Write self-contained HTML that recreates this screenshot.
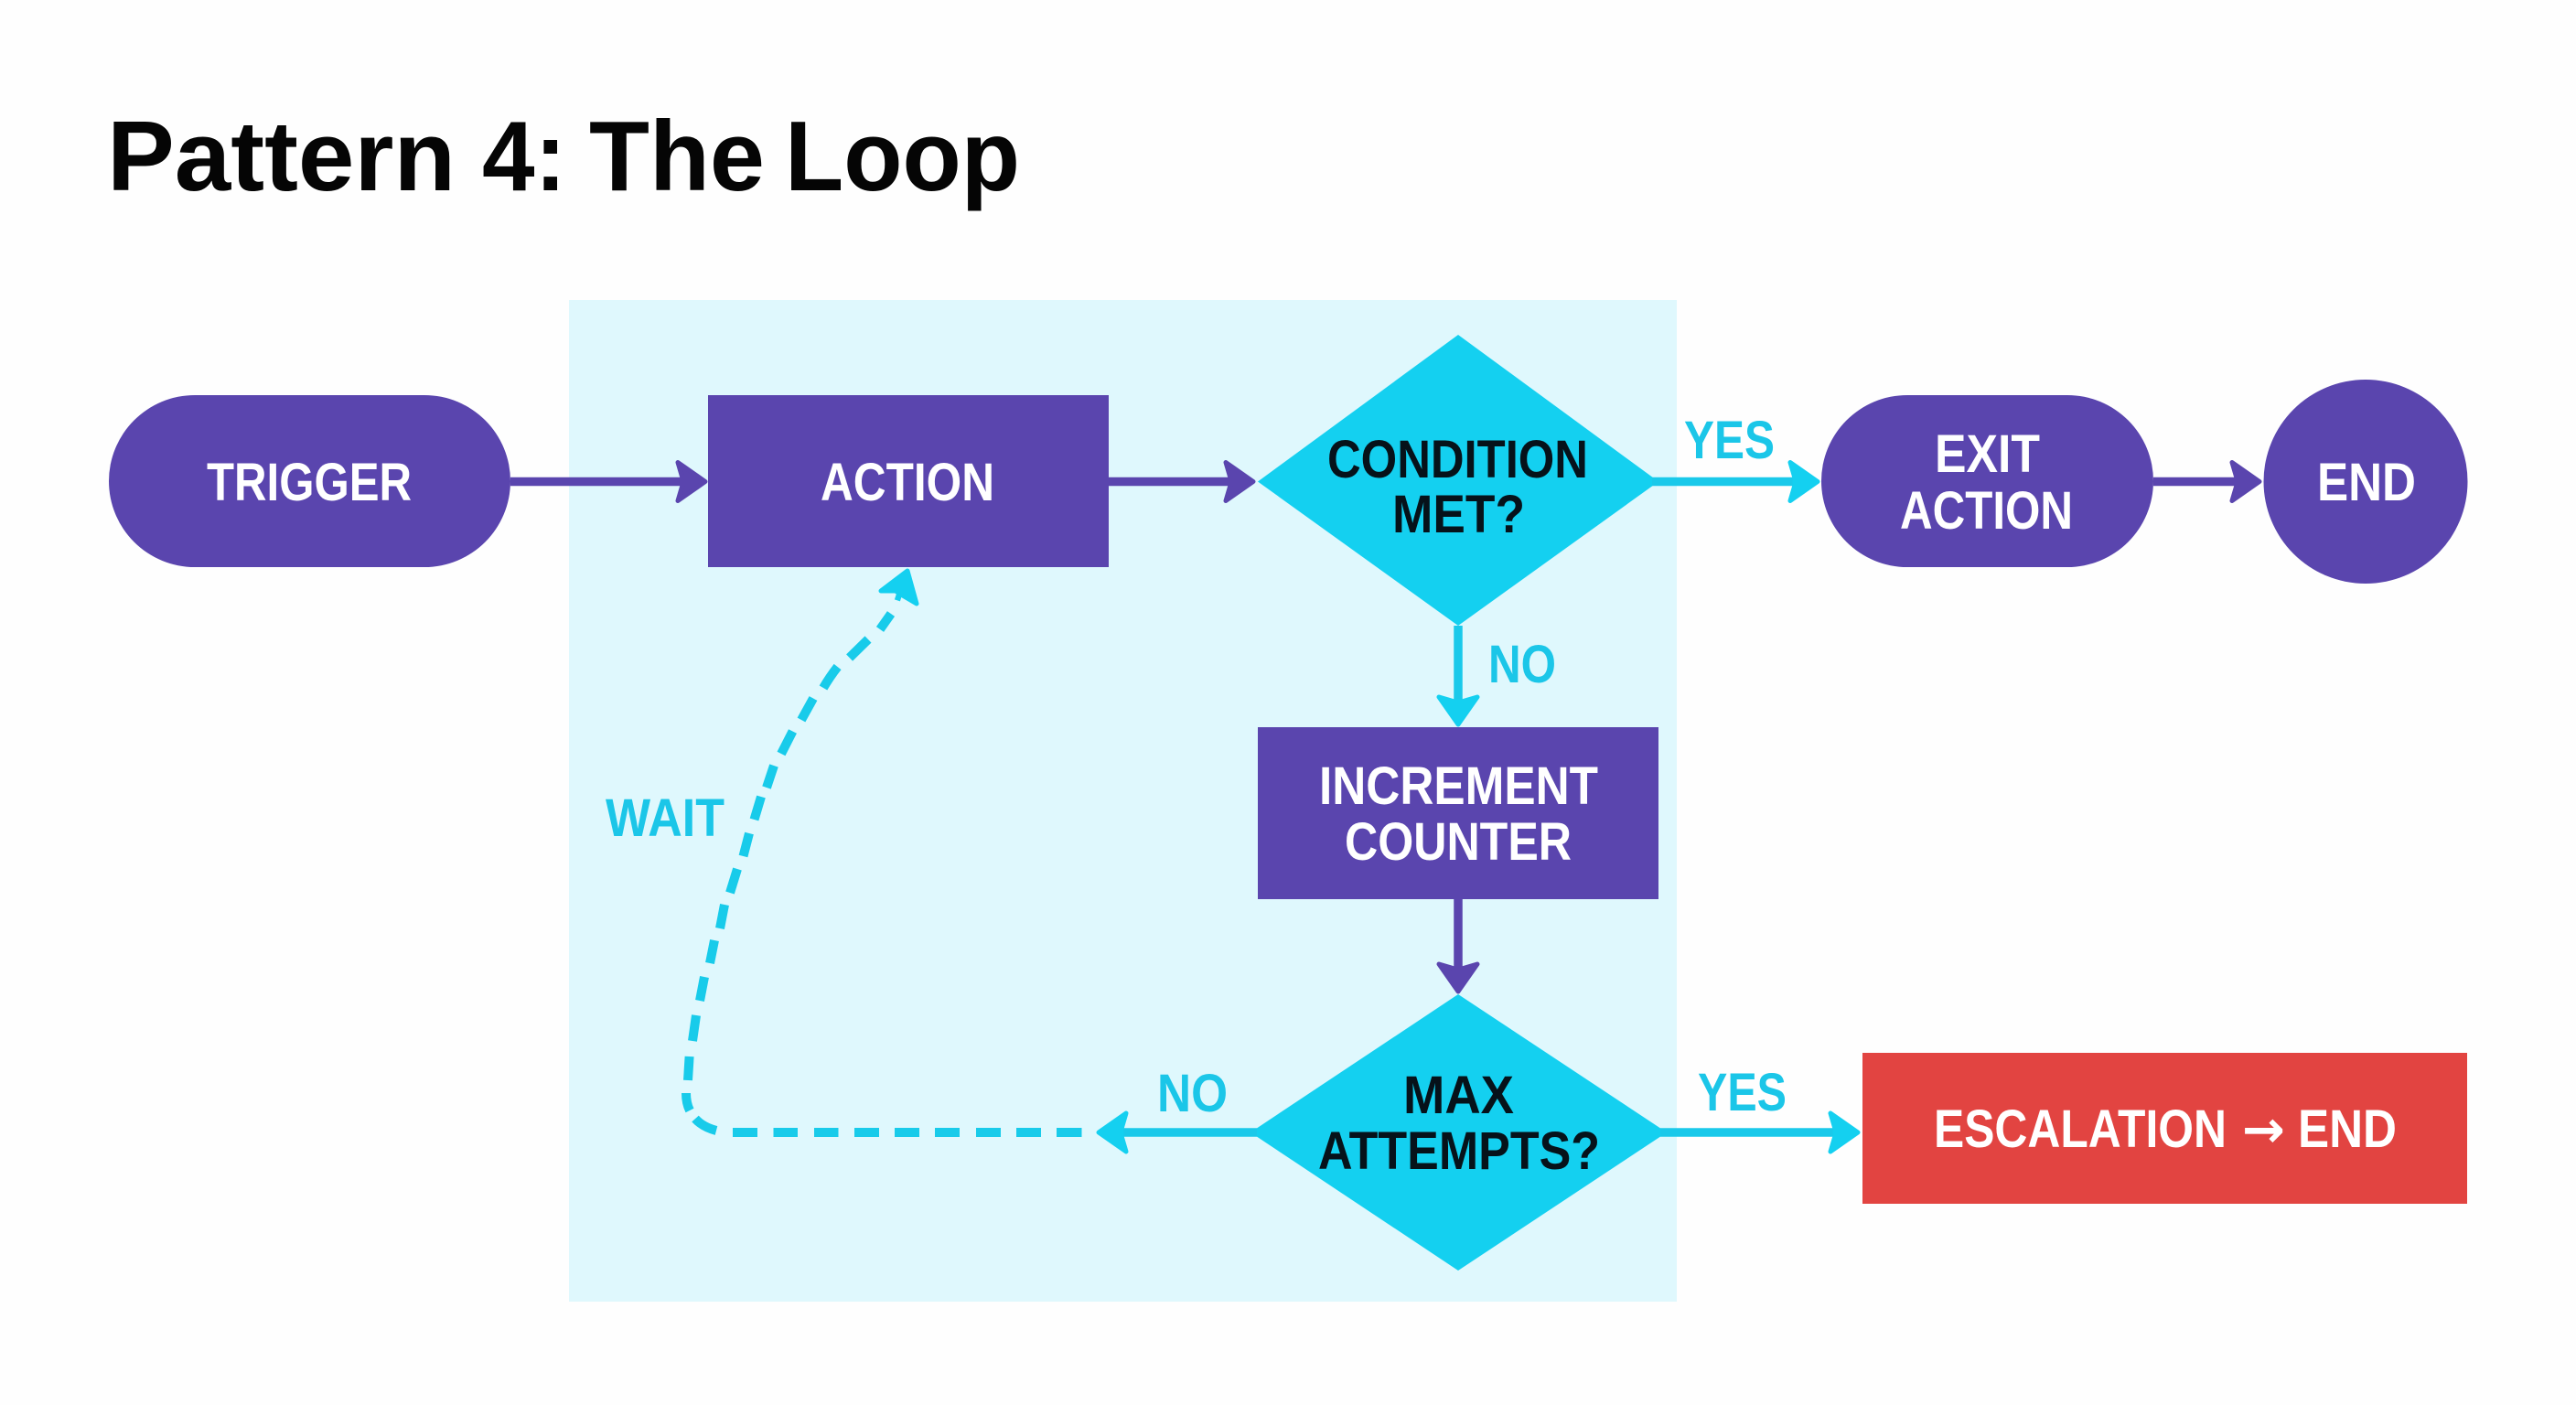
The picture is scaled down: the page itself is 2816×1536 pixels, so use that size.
<!DOCTYPE html>
<html>
<head>
<meta charset="utf-8">
<title>Pattern 4: The Loop</title>
<style>
html,body{margin:0;padding:0;background:#fefefe;width:2816px;height:1536px;overflow:hidden}
svg{display:block}
text{font-family:"Liberation Sans",sans-serif;font-weight:700}
.t{fill:#050505;font-size:109px}
.w{fill:#ffffff;font-size:58px}
.k{fill:#06121a;font-size:58px}
.c{fill:#1bc6e8;font-size:58px}
</style>
</head>
<body>
<svg width="2816" height="1536" viewBox="0 0 2816 1536" xmlns="http://www.w3.org/2000/svg">
<defs>
<path id="hp" d="M0 0 L-30 -21 L-25 -4 L-25 4 L-30 21 Z" fill="#5a45ae" stroke="#5a45ae" stroke-width="5" stroke-linejoin="round"/>
<path id="hc" d="M0 0 L-30 -21 L-25 -4 L-25 4 L-30 21 Z" fill="#14d0f0" stroke="#14d0f0" stroke-width="5" stroke-linejoin="round"/>
</defs>
<rect width="2816" height="1536" fill="#fefefe"/>
<rect x="622" y="328" width="1211" height="1095" fill="#dff8fd"/>

<text class="t" x="117" y="208" textLength="381" lengthAdjust="spacingAndGlyphs">Pattern</text>
<text class="t" x="527" y="208" textLength="92" lengthAdjust="spacingAndGlyphs">4:</text>
<text class="t" x="644" y="208" textLength="192" lengthAdjust="spacingAndGlyphs">The</text>
<text class="t" x="858" y="208" textLength="257" lengthAdjust="spacingAndGlyphs">Loop</text>

<!-- shapes -->
<rect x="119" y="432" width="439" height="188" rx="94" fill="#5a45ae"/>
<rect x="774" y="432" width="438" height="188" fill="#5a45ae"/>
<polygon points="1375,526.5 1594,366 1813,526.5 1594,684" fill="#14d0f0"/>
<rect x="1991" y="432" width="363" height="188" rx="94" fill="#5a45ae"/>
<circle cx="2586" cy="526.5" r="111.5" fill="#5a45ae"/>
<rect x="1375" y="795" width="438" height="188" fill="#5a45ae"/>
<polygon points="1367,1238 1594,1087 1822,1238 1594,1389" fill="#14d0f0"/>
<rect x="2036" y="1151" width="661" height="165" fill="#e24441"/>

<!-- solid connectors -->
<g fill="none" stroke-width="9.5">
<line x1="558" y1="526.5" x2="755" y2="526.5" stroke="#5a45ae"/>
<line x1="1212" y1="526.5" x2="1355" y2="526.5" stroke="#5a45ae"/>
<line x1="2354" y1="526.5" x2="2455" y2="526.5" stroke="#5a45ae"/>
<line x1="1594" y1="983" x2="1594" y2="1070" stroke="#5a45ae"/>
<line x1="1806" y1="526.5" x2="1970" y2="526.5" stroke="#1ac9ea"/>
<line x1="1594" y1="684" x2="1594" y2="775" stroke="#1ac9ea"/>
<line x1="1815" y1="1238" x2="2015" y2="1238" stroke="#1ac9ea"/>
<line x1="1374" y1="1238" x2="1215" y2="1238" stroke="#1ac9ea"/>
</g>

<!-- arrowheads -->
<use href="#hp" transform="translate(771 526.5)"/>
<use href="#hp" transform="translate(1370 526.5)"/>
<use href="#hp" transform="translate(2470 526.5)"/>
<use href="#hp" transform="translate(1594 1084) rotate(90)"/>
<use href="#hc" transform="translate(1987 526.5)"/>
<use href="#hc" transform="translate(1594 792) rotate(90)"/>
<use href="#hc" transform="translate(2031 1238)"/>
<use href="#hc" transform="translate(1201 1238) rotate(180)"/>
<path d="M992 624 L963 646 L979 646 L985 650 L1002 660 Z" fill="#14d0f0" stroke="#14d0f0" stroke-width="5" stroke-linejoin="round"/>
<line x1="979" y1="652" x2="985" y2="654" stroke="#14d0f0" stroke-width="7"/>

<!-- dashed loop -->
<g stroke="#18cbea" stroke-width="10" fill="none">
<line x1="801" y1="1238" x2="828" y2="1238"/>
<line x1="845.5" y1="1238" x2="872" y2="1238"/>
<line x1="890" y1="1238" x2="916.5" y2="1238"/>
<line x1="934" y1="1238" x2="961" y2="1238"/>
<line x1="978" y1="1238" x2="1005" y2="1238"/>
<line x1="1022" y1="1238" x2="1049" y2="1238"/>
<line x1="1067" y1="1238" x2="1094" y2="1238"/>
<line x1="1111" y1="1238" x2="1138" y2="1238"/>
<line x1="1155" y1="1238" x2="1182.5" y2="1238"/>
<path d="M783 1236 Q768 1232 760 1223"/>
<path d="M754 1214 Q750 1206 750 1195"/>
<line x1="752" y1="1181" x2="753.6" y2="1155"/>
<line x1="757" y1="1138" x2="761" y2="1110"/>
<line x1="765" y1="1094" x2="770" y2="1068"/>
<line x1="776" y1="1053" x2="781" y2="1028"/>
<line x1="787" y1="1015" x2="792" y2="989"/>
<line x1="798" y1="976" x2="806" y2="950"/>
<line x1="812.5" y1="936" x2="819" y2="911"/>
<line x1="824.5" y1="896" x2="832" y2="871"/>
<line x1="838" y1="861" x2="846" y2="837"/>
<line x1="854" y1="824" x2="866.5" y2="799.5"/>
<line x1="876" y1="787" x2="889" y2="763.5"/>
<path d="M900 752 Q907 740 915.6 729"/>
<line x1="928.6" y1="719" x2="949" y2="699"/>
<line x1="962" y1="688" x2="974" y2="671"/>
</g>

<!-- node labels -->
<text class="w" x="226" y="547" textLength="224" lengthAdjust="spacingAndGlyphs">TRIGGER</text>
<text class="w" x="897" y="547" textLength="190" lengthAdjust="spacingAndGlyphs">ACTION</text>
<text class="k" x="1451" y="522" textLength="285" lengthAdjust="spacingAndGlyphs">CONDITION</text>
<text class="k" x="1522" y="582" textLength="145" lengthAdjust="spacingAndGlyphs">MET?</text>
<text class="w" x="2115" y="516" textLength="115" lengthAdjust="spacingAndGlyphs">EXIT</text>
<text class="w" x="2077" y="578" textLength="189" lengthAdjust="spacingAndGlyphs">ACTION</text>
<text class="w" x="2533" y="547" textLength="108" lengthAdjust="spacingAndGlyphs">END</text>
<text class="w" x="1442" y="879" textLength="305" lengthAdjust="spacingAndGlyphs">INCREMENT</text>
<text class="w" x="1470" y="940" textLength="248" lengthAdjust="spacingAndGlyphs">COUNTER</text>
<text class="k" x="1534" y="1217" textLength="121" lengthAdjust="spacingAndGlyphs">MAX</text>
<text class="k" x="1441" y="1278" textLength="308" lengthAdjust="spacingAndGlyphs">ATTEMPTS?</text>
<text class="w" x="2114" y="1254" textLength="320" lengthAdjust="spacingAndGlyphs">ESCALATION</text>
<text class="w" x="2451" y="1254" textLength="47" lengthAdjust="spacingAndGlyphs" style="font-family:'DejaVu Sans',sans-serif;font-size:56px">→</text>
<text class="w" x="2512" y="1254" textLength="108" lengthAdjust="spacingAndGlyphs">END</text>

<!-- connector labels -->
<text class="c" x="1841" y="501" textLength="99" lengthAdjust="spacingAndGlyphs">YES</text>
<text class="c" x="1627" y="746" textLength="74" lengthAdjust="spacingAndGlyphs">NO</text>
<text class="c" x="1856" y="1214" textLength="97" lengthAdjust="spacingAndGlyphs">YES</text>
<text class="c" x="1265" y="1215" textLength="77" lengthAdjust="spacingAndGlyphs">NO</text>
<text class="c" x="662" y="914" textLength="130" lengthAdjust="spacingAndGlyphs">WAIT</text>
</svg>
</body>
</html>
